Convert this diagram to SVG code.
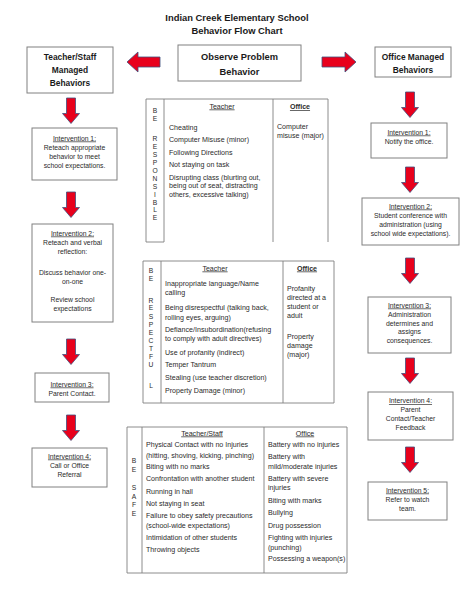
<svg xmlns="http://www.w3.org/2000/svg" xmlns:xlink="http://www.w3.org/1999/xlink" width="474" height="613" viewBox="0 0 474 613">
<style>
text{font-family:"Liberation Sans",Arial,sans-serif;fill:#2b2b2b}
.t{font-size:9.4px;font-weight:bold;text-anchor:middle;fill:#1a1a1a}
.h{font-size:8.4px;font-weight:bold;text-anchor:middle;fill:#1a1a1a}
.s{font-size:6.8px;text-anchor:middle}
.u{text-decoration:underline}
.c{font-size:7.1px}
.l{font-size:6.7px;text-anchor:middle}
.ch{font-size:7.1px;text-anchor:middle;text-decoration:underline}
.b{font-weight:bold}
.box{fill:#fff;stroke:#808080;stroke-width:1}
.tb{fill:none;stroke:#808080;stroke-width:0.9}
.arr{fill:#e8001c;stroke:#40507f;stroke-width:0.8}
</style>
<defs>
<path id="down" d="M-4.5,0 H4.5 V15.5 H8.5 L0,25.5 L-8.5,15.5 H-4.5 Z"/>
</defs>
<rect width="474" height="613" fill="#fff"/>
<g id="title">
<text class="t" x="237" y="21">Indian Creek Elementary School</text>
<text class="t" x="237" y="34">Behavior Flow Chart</text>
</g>
<g id="observe">
<rect class="box" x="178" y="45" width="123" height="36"/>
<text class="h" x="239.5" y="60" style="font-size:9.3px">Observe Problem</text>
<text class="h" x="239.5" y="75" style="font-size:9.3px">Behavior</text>
</g>
<g id="teacher-managed">
<rect class="box" x="27" y="47" width="86" height="46"/>
<text class="h" x="70" y="60">Teacher/Staff</text>
<text class="h" x="70" y="73">Managed</text>
<text class="h" x="70" y="86">Behaviors</text>
</g>
<g id="office-managed">
<rect class="box" x="375" y="47" width="76" height="30"/>
<text class="h" x="413" y="60">Office Managed</text>
<text class="h" x="413" y="73">Behaviors</text>
</g>
<g id="left-int1">
<rect class="box" x="32" y="128" width="85" height="52"/>
<text class="s u" x="74.5" y="140.5">Intervention 1:</text>
<text class="s" x="74.5" y="149.5">Reteach appropriate</text>
<text class="s" x="74.5" y="158.5">behavior to meet</text>
<text class="s" x="74.5" y="168">school expectations.</text>
</g>
<g id="left-int2">
<rect class="box" x="32" y="224" width="81" height="98"/>
<text class="s u" x="72.5" y="235.5">Intervention 2:</text>
<text class="s" x="72.5" y="244.5">Reteach and verbal</text>
<text class="s" x="72.5" y="253.5">reflection:</text>
<text class="s" x="72.5" y="274.5">Discuss behavior one-</text>
<text class="s" x="72.5" y="283.5">on-one</text>
<text class="s" x="72.5" y="301.5">Review school</text>
<text class="s" x="72.5" y="310.5">expectations</text>
</g>
<g id="left-int3">
<rect class="box" x="35" y="373" width="74" height="29"/>
<text class="s u" x="72" y="386.5">Intervention 3:</text>
<text class="s" x="72" y="396">Parent Contact.</text>
</g>
<g id="left-int4">
<rect class="box" x="32" y="448" width="75" height="39"/>
<text class="s u" x="69.5" y="458.5">Intervention 4:</text>
<text class="s" x="69.5" y="467.5">Call or Office</text>
<text class="s" x="69.5" y="477">Referral</text>
</g>
<g id="right-int1">
<rect class="box" x="371" y="123" width="76" height="35"/>
<text class="s u" x="409" y="134.5">Intervention 1:</text>
<text class="s" x="409" y="144">Notify the office.</text>
</g>
<g id="right-int2">
<rect class="box" x="362" y="198" width="97" height="47"/>
<text class="s u" x="410.5" y="208.5">Intervention 2:</text>
<text class="s" x="410.5" y="218">Student conference with</text>
<text class="s" x="410.5" y="227">administration (using</text>
<text class="s" x="410.5" y="236">school wide expectations).</text>
</g>
<g id="right-int3">
<rect class="box" x="368" y="297" width="83" height="56"/>
<text class="s u" x="409.5" y="307.5">Intervention 3:</text>
<text class="s" x="409.5" y="316.5">Administration</text>
<text class="s" x="409.5" y="325.5">determines and</text>
<text class="s" x="409.5" y="334">assigns</text>
<text class="s" x="409.5" y="343">consequences.</text>
</g>
<g id="right-int4">
<rect class="box" x="368" y="392" width="85" height="48"/>
<text class="s u" x="410.5" y="403">Intervention 4:</text>
<text class="s" x="410.5" y="412">Parent</text>
<text class="s" x="410.5" y="421">Contact/Teacher</text>
<text class="s" x="410.5" y="430">Feedback</text>
</g>
<g id="right-int5">
<rect class="box" x="368" y="482" width="79" height="38"/>
<text class="s u" x="407.5" y="492.5">Intervention 5:</text>
<text class="s" x="407.5" y="501.5">Refer to watch</text>
<text class="s" x="407.5" y="510.5">team.</text>
</g>
<g id="table-responsible">
<path class="tb" d="M146,99 H328 M146,99 V242 M164,99 V242 M273,99 V242 M328,99 V242 M146,242 H164"/>
<text class="l"><tspan x="155" y="112.5">B</tspan><tspan x="155" y="121">E</tspan><tspan x="155" y="141">R</tspan><tspan x="155" y="149">E</tspan><tspan x="155" y="157">S</tspan><tspan x="155" y="165">P</tspan><tspan x="155" y="173">O</tspan><tspan x="155" y="181">N</tspan><tspan x="155" y="189">S</tspan><tspan x="155" y="196.5">I</tspan><tspan x="155" y="204.5">B</tspan><tspan x="155" y="212">L</tspan><tspan x="155" y="220">E</tspan></text>
<text class="ch" x="222" y="108.5">Teacher</text>
<text class="ch b" x="300" y="109">Office</text>
<text class="c" x="169" y="129.5">Cheating</text>
<text class="c" x="169" y="141.5">Computer Misuse (minor)</text>
<text class="c" x="169" y="154.5">Following Directions</text>
<text class="c" x="169" y="166.5">Not staying on task</text>
<text class="c" x="169" y="179.5">Disrupting class (blurting out,</text>
<text class="c" x="169" y="188">being out of seat, distracting</text>
<text class="c" x="169" y="196.5">others, excessive talking)</text>
<text class="c" x="277" y="128.5">Computer</text>
<text class="c" x="277" y="137.5">misuse (major)</text>
</g>
<g id="table-respectful">
<path class="tb" d="M143,261 H334 V403 H143 Z M161,261 V403 M283,261 V403"/>
<text class="l"><tspan x="151" y="272.5">B</tspan><tspan x="151" y="280.5">E</tspan><tspan x="151" y="303">R</tspan><tspan x="151" y="310">E</tspan><tspan x="151" y="318.5">S</tspan><tspan x="151" y="326.5">P</tspan><tspan x="151" y="335">E</tspan><tspan x="151" y="343">C</tspan><tspan x="151" y="350.5">T</tspan><tspan x="151" y="359">F</tspan><tspan x="151" y="367">U</tspan><tspan x="151" y="388">L</tspan></text>
<text class="ch" x="215" y="270.5">Teacher</text>
<text class="ch b" x="307" y="270.5">Office</text>
<text class="c" x="165" y="285.5">Inappropriate language/Name</text>
<text class="c" x="165" y="294.5">calling</text>
<text class="c" x="165" y="309.5">Being disrespectful (talking back,</text>
<text class="c" x="165" y="319.5">rolling eyes, arguing)</text>
<text class="c" x="165" y="331.5">Defiance/Insubordination(refusing</text>
<text class="c" x="165" y="340.5">to comply with adult directives)</text>
<text class="c" x="165" y="354.5">Use of profanity (indirect)</text>
<text class="c" x="165" y="366.5">Temper Tantrum</text>
<text class="c" x="165" y="379.5">Stealing (use teacher discretion)</text>
<text class="c" x="165" y="392.5">Property Damage (minor)</text>
<text class="c" x="287" y="290.5">Profanity</text>
<text class="c" x="287" y="299.5">directed at a</text>
<text class="c" x="287" y="308.5">student or</text>
<text class="c" x="287" y="317.5">adult</text>
<text class="c" x="287" y="338.5">Property</text>
<text class="c" x="287" y="347.5">damage</text>
<text class="c" x="287" y="356.5">(major)</text>
</g>
<g id="table-safe">
<path class="tb" d="M127,427 H347 V573 H127 Z M142,427 V573 M264,427 V573"/>
<text class="l"><tspan x="134" y="463">B</tspan><tspan x="134" y="471.5">E</tspan><tspan x="134" y="490">S</tspan><tspan x="134" y="498.5">A</tspan><tspan x="134" y="507">F</tspan><tspan x="134" y="515.5">E</tspan></text>
<text class="ch" x="202" y="435.5">Teacher/Staff</text>
<text class="ch" x="305" y="435.5">Office</text>
<text class="c" x="146" y="446.5">Physical Contact with no Injuries</text>
<text class="c" x="146" y="457.5">(hitting, shoving, kicking, pinching)</text>
<text class="c" x="146" y="469">Biting with no marks</text>
<text class="c" x="146" y="481">Confrontation with another student</text>
<text class="c" x="146" y="493.5">Running in hall</text>
<text class="c" x="146" y="505.5">Not staying in seat</text>
<text class="c" x="146" y="517.5">Failure to obey safety precautions</text>
<text class="c" x="146" y="527.5">(school-wide expectations)</text>
<text class="c" x="146" y="539.5">Intimidation of other students</text>
<text class="c" x="146" y="551.5">Throwing objects</text>
<text class="c" x="268" y="446.5">Battery with no injuries</text>
<text class="c" x="268" y="458.5">Battery with</text>
<text class="c" x="268" y="468.5">mild/moderate injuries</text>
<text class="c" x="268" y="480.5">Battery with severe</text>
<text class="c" x="268" y="489.5">injuries</text>
<text class="c" x="268" y="502.5">Biting with marks</text>
<text class="c" x="268" y="514.5">Bullying</text>
<text class="c" x="268" y="527.5">Drug possession</text>
<text class="c" x="268" y="539.5">Fighting with injuries</text>
<text class="c" x="268" y="549.5">(punching)</text>
<text class="c" x="268" y="560.5">Possessing a weapon(s)</text>
</g>
<g id="connectors">
<path class="arr" d="M127,62 L138,52 L138,57 L160,57 L160,67 L138,67 L138,72 Z"/>
<path class="arr" d="M356,62 L345,52 L345,57 L322,57 L322,67 L345,67 L345,72 Z"/>
<use href="#down" class="arr" x="71" y="98"/>
<use href="#down" class="arr" x="71" y="192"/>
<use href="#down" class="arr" x="71" y="339"/>
<use href="#down" class="arr" x="71" y="415"/>
<use href="#down" class="arr" x="410" y="92"/>
<use href="#down" class="arr" x="410" y="167"/>
<use href="#down" class="arr" x="410" y="258"/>
<use href="#down" class="arr" x="410" y="358"/>
<use href="#down" class="arr" x="410" y="447"/>
</g>
</svg>
